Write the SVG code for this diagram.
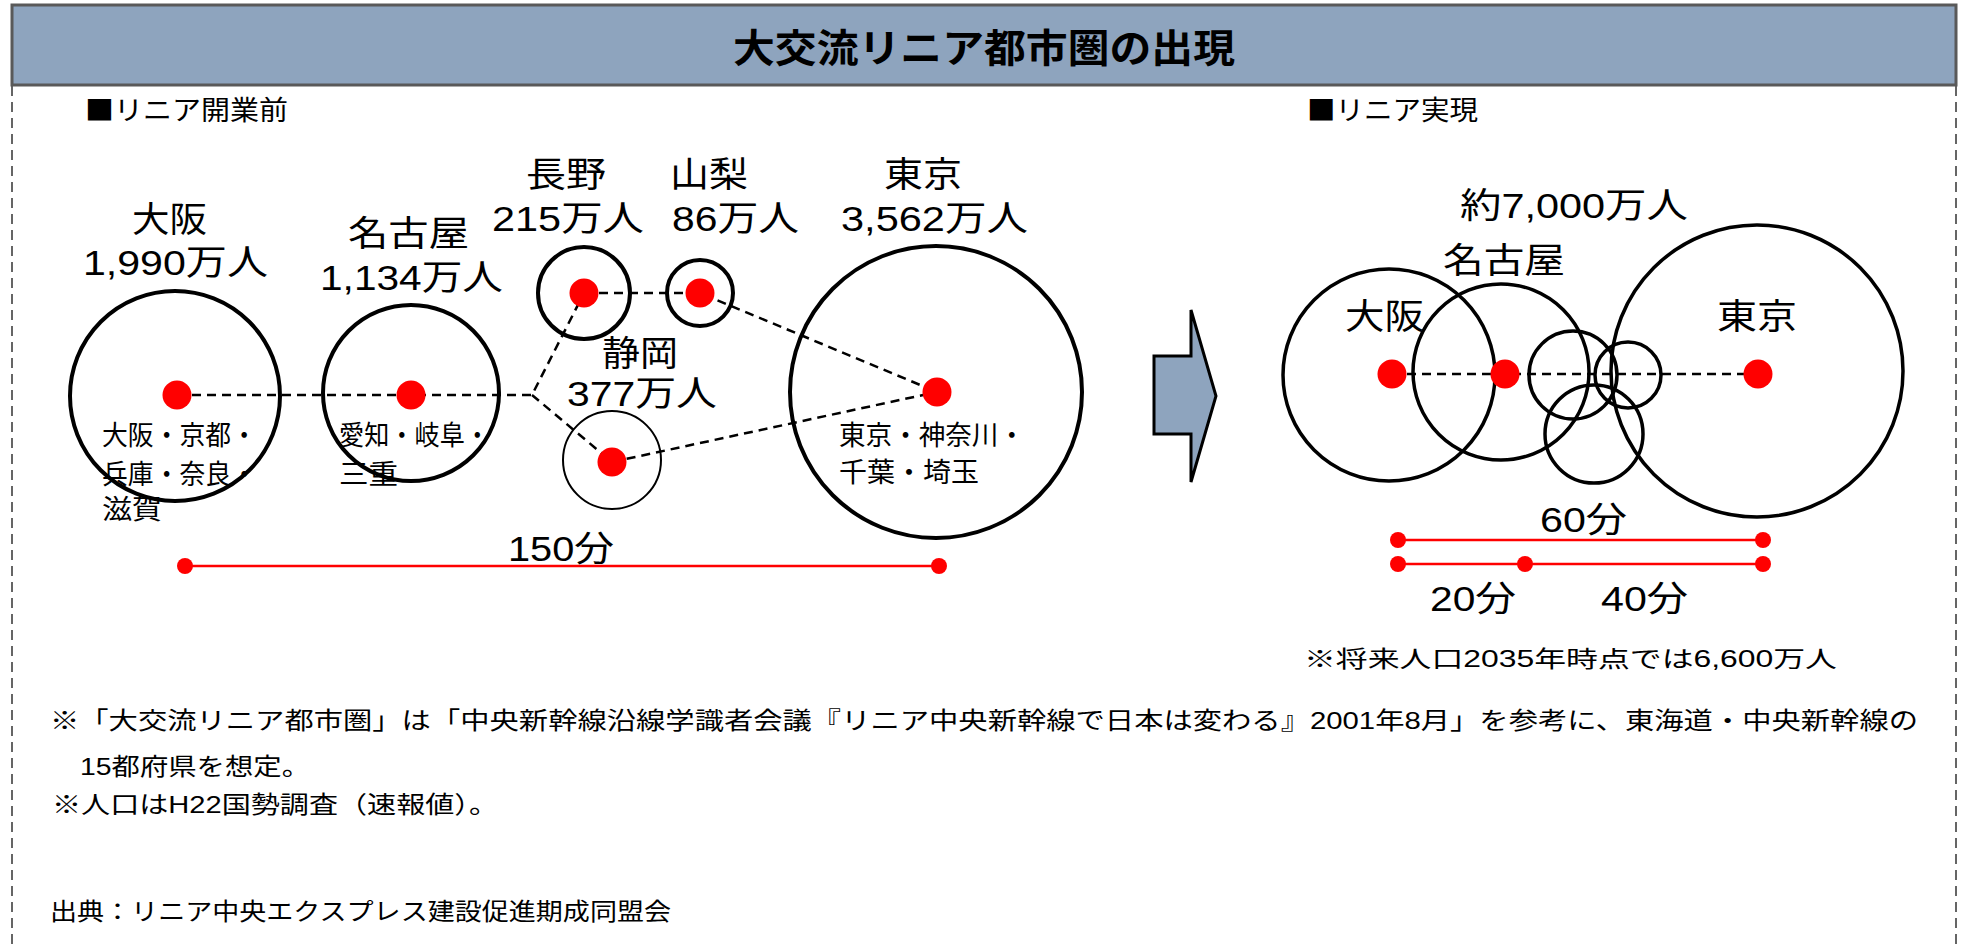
<svg xmlns="http://www.w3.org/2000/svg" width="1966" height="949" viewBox="0 0 1966 949">
<style>
text{font-family:"Liberation Sans","Noto Sans CJK JP",sans-serif;fill:#000}
.t{font-size:39px;font-weight:bold}
.h{font-size:27px;font-family:"Noto Sans CJK JP",sans-serif}
.b{font-size:35px}
.s{font-size:27px}
.f{font-size:24px}
.n{font-size:23px}
.c{fill:none;stroke:#000;stroke-width:4}
.c2{fill:none;stroke:#000;stroke-width:3.5}
.thin{fill:none;stroke:#000;stroke-width:2}
.dash{fill:none;stroke:#000;stroke-width:2.5;stroke-dasharray:9 6}
.dot{fill:#ff0000}
.red{stroke:#ff0000;stroke-width:2.5}
.rd{fill:#ff0000}
</style>
<rect width="1966" height="949" fill="#fff"/>
<g id="frame">
<line x1="12" y1="86" x2="12" y2="949" stroke="#333" stroke-width="1.5" stroke-dasharray="10 6"/>
<line x1="1956" y1="86" x2="1956" y2="949" stroke="#333" stroke-width="1.5" stroke-dasharray="10 6"/>
</g>
<g id="title">
<rect x="12" y="5" width="1944" height="80" fill="#8EA4BE" stroke="#595959" stroke-width="3"/>
<text class="t" x="733" y="62" textLength="502" lengthAdjust="spacingAndGlyphs">大交流リニア都市圏の出現</text>
</g>
<text class="h" x="85" y="120" textLength="203" lengthAdjust="spacingAndGlyphs">■リニア開業前</text>
<text class="h" x="1307" y="120" textLength="171" lengthAdjust="spacingAndGlyphs">■リニア実現</text>

<g id="before-circles">
<circle id="osaka-c" class="c" cx="175" cy="396" r="105"/>
<circle id="nagoya-c" class="c" cx="411" cy="393" r="88"/>
<circle id="nagano-c" class="c" cx="584" cy="293" r="46"/>
<circle id="yamanashi-c" class="c" cx="700" cy="293" r="33"/>
<circle id="shizuoka-c" class="thin" cx="612" cy="460" r="49"/>
<circle id="tokyo-c" class="c" cx="936" cy="392" r="146"/>
</g>
<g id="connectors">
<path class="dash" d="M177,395 L532,395 L584,293 M532,395 L612,462 M584,293 L700,293 L937,392 M612,462 L937,392"/>
<path class="dash" d="M1392,374 L1758,374"/>
</g>
<g id="before-dots">
<circle class="dot" cx="177" cy="395" r="14.5"/>
<circle class="dot" cx="411" cy="395" r="14.5"/>
<circle class="dot" cx="584" cy="293" r="14.5"/>
<circle class="dot" cx="700" cy="293" r="14.5"/>
<circle class="dot" cx="612" cy="462" r="14.5"/>
<circle class="dot" cx="937" cy="392" r="14.5"/>
</g>
<g id="before-labels">
<text class="b" x="132" y="232" textLength="75" lengthAdjust="spacingAndGlyphs">大阪</text>
<text class="b" x="83" y="275" textLength="185" lengthAdjust="spacingAndGlyphs">1,990万人</text>
<text class="b" x="348" y="246" textLength="121" lengthAdjust="spacingAndGlyphs">名古屋</text>
<text class="b" x="320" y="290" textLength="183" lengthAdjust="spacingAndGlyphs">1,134万人</text>
<text class="b" x="526" y="187" textLength="80" lengthAdjust="spacingAndGlyphs">長野</text>
<text class="b" x="492" y="231" textLength="152" lengthAdjust="spacingAndGlyphs">215万人</text>
<text class="b" x="670" y="187" textLength="78" lengthAdjust="spacingAndGlyphs">山梨</text>
<text class="b" x="672" y="231" textLength="127" lengthAdjust="spacingAndGlyphs">86万人</text>
<text class="b" x="884" y="187" textLength="78" lengthAdjust="spacingAndGlyphs">東京</text>
<text class="b" x="841" y="231" textLength="187" lengthAdjust="spacingAndGlyphs">3,562万人</text>
<text class="b" x="602" y="366" textLength="76" lengthAdjust="spacingAndGlyphs">静岡</text>
<text class="b" x="567" y="406" textLength="150" lengthAdjust="spacingAndGlyphs">377万人</text>
<text class="s" x="102" y="445" textLength="155" lengthAdjust="spacingAndGlyphs">大阪・京都・</text>
<text class="s" x="102" y="484" textLength="155" lengthAdjust="spacingAndGlyphs">兵庫・奈良・</text>
<text class="s" x="102" y="519" textLength="60" lengthAdjust="spacingAndGlyphs">滋賀</text>
<text class="s" x="339" y="445" textLength="151" lengthAdjust="spacingAndGlyphs">愛知・岐阜・</text>
<text class="s" x="339" y="484" textLength="59" lengthAdjust="spacingAndGlyphs">三重</text>
<text class="s" x="839" y="445" textLength="186" lengthAdjust="spacingAndGlyphs">東京・神奈川・</text>
<text class="s" x="839" y="482" textLength="140" lengthAdjust="spacingAndGlyphs">千葉・埼玉</text>
</g>
<g id="before-time">
<line class="red" x1="185" y1="566" x2="939" y2="566"/>
<circle class="rd" cx="185" cy="566" r="8"/>
<circle class="rd" cx="939" cy="566" r="8"/>
<text class="b" x="508" y="561" textLength="106" lengthAdjust="spacingAndGlyphs">150分</text>
</g>

<g id="arrow">
<polygon points="1154,356 1191,356 1191,310 1216,396 1191,482 1191,434 1154,434" fill="#8EA4BE" stroke="#000" stroke-width="3" stroke-linejoin="miter"/>
</g>

<g id="after-circles">
<circle class="c2" cx="1389" cy="375" r="106"/>
<circle class="c2" cx="1501" cy="372" r="88"/>
<circle class="c2" cx="1573" cy="375" r="44"/>
<circle class="c2" cx="1628" cy="375" r="33"/>
<circle class="c2" cx="1594" cy="434" r="49"/>
<circle class="c2" cx="1757" cy="371" r="146"/>
</g>
<g id="after-dots">
<circle class="dot" cx="1392" cy="374" r="14.5"/>
<circle class="dot" cx="1505" cy="374" r="14.5"/>
<circle class="dot" cx="1758" cy="374" r="14.5"/>
</g>
<g id="after-labels">
<text class="b" x="1460" y="218" textLength="228" lengthAdjust="spacingAndGlyphs">約7,000万人</text>
<text class="b" x="1443" y="273" textLength="122" lengthAdjust="spacingAndGlyphs">名古屋</text>
<text class="b" x="1345" y="329" textLength="79" lengthAdjust="spacingAndGlyphs">大阪</text>
<text class="b" x="1717" y="329" textLength="80" lengthAdjust="spacingAndGlyphs">東京</text>
</g>
<g id="after-time">
<line class="red" x1="1398" y1="540" x2="1763" y2="540"/>
<circle class="rd" cx="1398" cy="540" r="8"/>
<circle class="rd" cx="1763" cy="540" r="8"/>
<line class="red" x1="1398" y1="564" x2="1763" y2="564"/>
<circle class="rd" cx="1398" cy="564" r="8"/>
<circle class="rd" cx="1525" cy="564" r="8"/>
<circle class="rd" cx="1763" cy="564" r="8"/>
<text class="b" x="1540" y="532" textLength="87" lengthAdjust="spacingAndGlyphs">60分</text>
<text class="b" x="1430" y="611" textLength="86" lengthAdjust="spacingAndGlyphs">20分</text>
<text class="b" x="1601" y="611" textLength="87" lengthAdjust="spacingAndGlyphs">40分</text>
<text class="n" x="1304" y="667" textLength="533" lengthAdjust="spacingAndGlyphs">※将来人口2035年時点では6,600万人</text>
</g>
<g id="notes">
<text class="f" x="50" y="729" textLength="1868" lengthAdjust="spacingAndGlyphs">※「大交流リニア都市圏」は「中央新幹線沿線学識者会議『リニア中央新幹線で日本は変わる』2001年8月」を参考に、東海道・中央新幹線の</text>
<text class="f" x="80" y="775" textLength="230" lengthAdjust="spacingAndGlyphs">15都府県を想定。</text>
<text class="f" x="52" y="813" textLength="446" lengthAdjust="spacingAndGlyphs">※人口はH22国勢調査（速報値）。</text>
<text class="f" x="50" y="920" textLength="621" lengthAdjust="spacingAndGlyphs">出典：リニア中央エクスプレス建設促進期成同盟会</text>
</g>
</svg>
